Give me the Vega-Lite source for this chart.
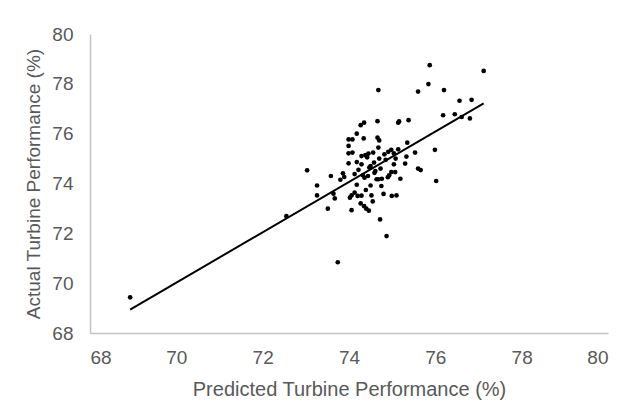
{
  "$schema": "https://vega.github.io/schema/vega-lite/v6.json",
  "autosize": "none",
  "width": 518,
  "height": 299,
  "padding": {"left": 90, "top": 34, "right": 16, "bottom": 70},
  "background": "white",
  "config": {
    "view": {"stroke": null},
    "font": "Liberation Sans",
    "axis": {
      "grid": false,
      "ticks": false,
      "domainColor": "#c4c4c4",
      "domainWidth": 1.5,
      "labelColor": "#595959",
      "titleColor": "#595959",
      "labelFont": "Liberation Sans",
      "titleFont": "Liberation Sans",
      "labelFontSize": 19,
      "titleFontSize": 19,
      "titleFontWeight": "normal"
    }
  },
  "datasets": {
    "pts": [
      {"p": 68.93, "a": 69.43}, {"p": 72.55, "a": 72.69}, {"p": 73.03, "a": 74.53}, {"p": 73.26, "a": 73.92},
      {"p": 73.26, "a": 73.52}, {"p": 73.51, "a": 72.99}, {"p": 73.58, "a": 74.30}, {"p": 73.64, "a": 73.59},
      {"p": 73.67, "a": 73.40}, {"p": 73.74, "a": 70.84}, {"p": 73.86, "a": 74.41}, {"p": 73.80, "a": 74.15},
      {"p": 73.89, "a": 74.26}, {"p": 73.99, "a": 75.77}, {"p": 74.08, "a": 75.77}, {"p": 73.99, "a": 75.51},
      {"p": 73.99, "a": 75.21}, {"p": 74.08, "a": 75.24}, {"p": 73.99, "a": 74.81}, {"p": 74.06, "a": 73.52},
      {"p": 74.06, "a": 72.93}, {"p": 74.13, "a": 73.63}, {"p": 74.02, "a": 73.43}, {"p": 74.13, "a": 74.38},
      {"p": 74.18, "a": 76.00}, {"p": 74.18, "a": 74.86}, {"p": 74.18, "a": 73.95}, {"p": 74.20, "a": 73.50},
      {"p": 74.29, "a": 73.51}, {"p": 74.27, "a": 76.34}, {"p": 74.35, "a": 76.44}, {"p": 74.34, "a": 75.81},
      {"p": 74.29, "a": 75.10}, {"p": 74.38, "a": 75.14}, {"p": 74.45, "a": 75.20}, {"p": 74.29, "a": 74.77},
      {"p": 74.32, "a": 74.33}, {"p": 74.36, "a": 74.23}, {"p": 74.27, "a": 73.20}, {"p": 74.35, "a": 73.09},
      {"p": 74.40, "a": 72.99}, {"p": 74.46, "a": 72.91}, {"p": 74.39, "a": 73.74}, {"p": 74.47, "a": 74.64},
      {"p": 74.50, "a": 73.92}, {"p": 74.52, "a": 73.52}, {"p": 74.55, "a": 73.28}, {"p": 74.56, "a": 75.24},
      {"p": 74.58, "a": 74.84}, {"p": 74.61, "a": 74.50}, {"p": 74.64, "a": 74.17}, {"p": 74.66, "a": 76.50},
      {"p": 74.66, "a": 75.84}, {"p": 74.70, "a": 75.73}, {"p": 74.68, "a": 75.44}, {"p": 74.68, "a": 77.75},
      {"p": 74.59, "a": 74.43}, {"p": 74.70, "a": 75.00}, {"p": 74.73, "a": 74.60}, {"p": 74.68, "a": 74.17},
      {"p": 74.76, "a": 74.19}, {"p": 74.75, "a": 73.90}, {"p": 74.80, "a": 73.58}, {"p": 74.72, "a": 72.56},
      {"p": 74.87, "a": 71.89}, {"p": 74.82, "a": 75.17}, {"p": 74.91, "a": 75.27}, {"p": 74.98, "a": 75.35},
      {"p": 75.04, "a": 75.21}, {"p": 74.93, "a": 74.33}, {"p": 74.98, "a": 74.46}, {"p": 75.04, "a": 74.77},
      {"p": 74.99, "a": 73.50}, {"p": 75.10, "a": 73.52}, {"p": 75.07, "a": 74.46}, {"p": 75.14, "a": 75.37},
      {"p": 75.14, "a": 76.44}, {"p": 75.16, "a": 76.49}, {"p": 75.19, "a": 74.19}, {"p": 75.30, "a": 74.80},
      {"p": 75.33, "a": 75.08}, {"p": 75.35, "a": 75.64}, {"p": 75.38, "a": 76.54}, {"p": 75.53, "a": 75.24},
      {"p": 75.60, "a": 77.69}, {"p": 75.60, "a": 74.60}, {"p": 75.66, "a": 74.54}, {"p": 75.84, "a": 77.99},
      {"p": 75.87, "a": 78.75}, {"p": 75.99, "a": 75.35}, {"p": 76.02, "a": 74.10}, {"p": 76.18, "a": 76.74},
      {"p": 76.20, "a": 77.75}, {"p": 76.45, "a": 76.78}, {"p": 76.56, "a": 77.32}, {"p": 76.61, "a": 76.67},
      {"p": 76.80, "a": 76.61}, {"p": 76.84, "a": 77.36}, {"p": 77.12, "a": 78.52},
      {"p": 74.42, "a": 75.05}, {"p": 74.50, "a": 74.70}, {"p": 74.85, "a": 74.95}, {"p": 75.08, "a": 75.00},
      {"p": 74.22, "a": 74.55}, {"p": 74.44, "a": 74.30}, {"p": 74.90, "a": 74.25}
    ],
    "fit": [
      {"p": 68.93, "a": 68.94},
      {"p": 77.12, "a": 77.22}
    ]
  },
  "layer": [
    {
      "data": {"name": "fit"},
      "mark": {"type": "line", "color": "black", "strokeWidth": 2},
      "encoding": {
        "x": {"field": "p", "type": "quantitative"},
        "y": {"field": "a", "type": "quantitative"}
      }
    },
    {
      "data": {"name": "pts"},
      "mark": {"type": "circle", "color": "black", "opacity": 1, "size": 22},
      "encoding": {
        "x": {
          "field": "p", "type": "quantitative",
          "scale": {"domain": [68, 80], "nice": false, "zero": false},
          "axis": {"values": [68, 70, 72, 74, 76, 78, 80], "labelPadding": 15, "title": "Predicted Turbine Performance (%)", "titleFontSize": 20, "titlePadding": 12}
        },
        "y": {
          "field": "a", "type": "quantitative",
          "scale": {"domain": [68, 80], "nice": false, "zero": false},
          "axis": {"values": [68, 70, 72, 74, 76, 78, 80], "labelPadding": 17, "title": "Actual  Turbine Performance (%)", "titlePadding": 8}
        }
      }
    }
  ]
}
